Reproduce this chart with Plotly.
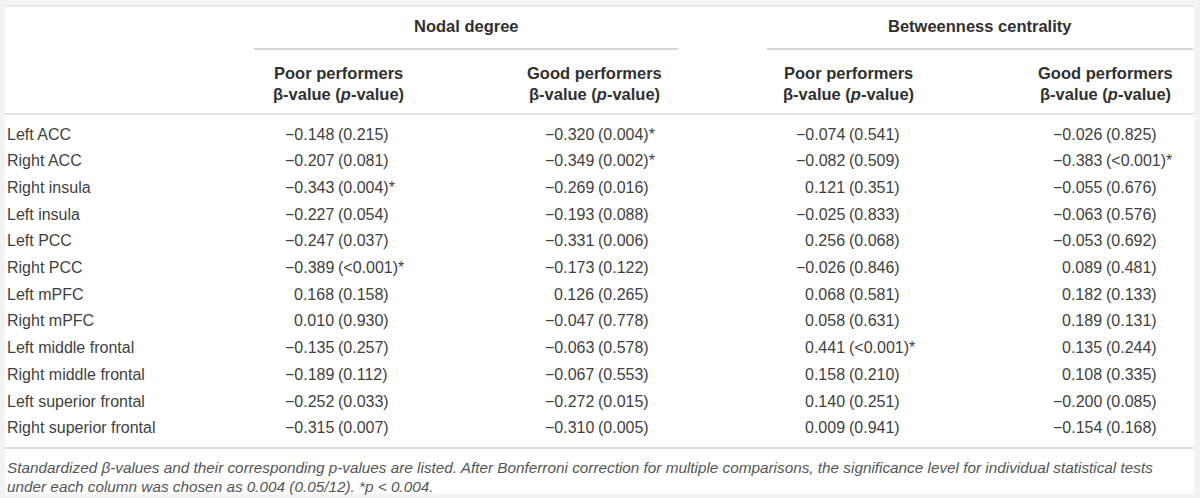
import plotly.graph_objects as go

# table content
regions = [
    "Left ACC", "Right ACC", "Right insula", "Left insula", "Left PCC", "Right PCC",
    "Left mPFC", "Right mPFC", "Left middle frontal", "Right middle frontal",
    "Left superior frontal", "Right superior frontal",
]

nd_poor_beta = [-0.148, -0.207, -0.343, -0.227, -0.247, -0.389, 0.168, 0.010, -0.135, -0.189, -0.252, -0.315]
nd_poor_p = ["0.215", "0.081", "0.004", "0.054", "0.037", "<0.001", "0.158", "0.930", "0.257", "0.112", "0.033", "0.007"]

nd_good_beta = [-0.320, -0.349, -0.269, -0.193, -0.331, -0.173, 0.126, -0.047, -0.063, -0.067, -0.272, -0.310]
nd_good_p = ["0.004", "0.002", "0.016", "0.088", "0.006", "0.122", "0.265", "0.778", "0.578", "0.553", "0.015", "0.005"]

bc_poor_beta = [-0.074, -0.082, 0.121, -0.025, 0.256, -0.026, 0.068, 0.058, 0.441, 0.158, 0.140, 0.009]
bc_poor_p = ["0.541", "0.509", "0.351", "0.833", "0.068", "0.846", "0.581", "0.631", "<0.001", "0.210", "0.251", "0.941"]

bc_good_beta = [-0.026, -0.383, -0.055, -0.063, -0.053, 0.089, 0.182, 0.189, 0.135, 0.108, -0.200, -0.154]
bc_good_p = ["0.825", "<0.001", "0.676", "0.576", "0.692", "0.481", "0.133", "0.131", "0.244", "0.335", "0.085", "0.168"]

groups = ["Nodal degree", "Betweenness centrality"]
subheads = ["Poor performers", "Good performers", "Poor performers", "Good performers"]
subhead2 = "β-value (<i>p</i>-value)"
footnote = [
    "Standardized β-values and their corresponding <i>p</i>-values are listed. After Bonferroni correction "
    "for multiple comparisons, the significance level for individual statistical tests",
    "under each column was chosen as 0.004 (0.05/12). *p &lt; 0.004.",
]
alpha = 0.004

columns = [(nd_poor_beta, nd_poor_p), (nd_good_beta, nd_good_p),
           (bc_poor_beta, bc_poor_p), (bc_good_beta, bc_good_p)]

# geometry (pixels)
W, H = 1200, 498
ROW0, ROW_H = 134, 26.7
col_x = [338, 598, 849, 1106]      # where "(" starts in each column
head_x = [338, 594, 848, 1105]
group_x = [466, 980]
group_lines = [(254, 678), (767, 1193)]

FONT = "Liberation Sans, Arial, Helvetica, sans-serif"
TXT = "#3f3f3f"
HEAD = "#303030"


def py(px):
    return 1 - px / H


def fmt(v):
    return f"{v:.3f}".replace("-", "\u2212")


fig = go.Figure(go.Scatter(x=[], y=[], mode="markers", showlegend=False))

ann = []
for i, name in enumerate(regions):
    ann.append(dict(x=7, y=i, text=name, xanchor="left"))

for j, (betas, ps) in enumerate(columns):
    for i in range(len(regions)):
        star = "*" if float(ps[i].lstrip("<")) <= alpha else ""
        ann.append(dict(x=col_x[j], y=i, text=fmt(betas[i]), xanchor="right", xshift=-4.5))
        ann.append(dict(x=col_x[j], y=i, text="(" + ps[i].replace("<", "&lt;") + ")" + star,
                        xanchor="left"))

for a in ann:
    a.update(xref="x", yref="y", yanchor="middle", showarrow=False, borderpad=0, borderwidth=0,
             font=dict(family=FONT, size=16, color=TXT))


def header(x, ypx, text, **kw):
    d = dict(x=x, y=py(ypx), xref="x", yref="paper", yanchor="middle", text=text,
             showarrow=False, borderpad=0, borderwidth=0,
             font=dict(family=FONT, size=16.5, color=HEAD))
    d.update(kw)
    return d


for g, gx in zip(groups, group_x):
    ann.append(header(gx, 26, "<b>" + g + "</b>"))
for s, hx in zip(subheads, head_x):
    ann.append(header(hx, 73, "<b>" + s + "</b>"))
    ann.append(header(hx, 94, "<b>" + subhead2 + "</b>"))
for k, line in enumerate(footnote):
    ann.append(header(7, 467 + 19 * k, "<i>" + line + "</i>", xanchor="left",
                      font=dict(family=FONT, size=15.3, color="#555")))

shapes = [
    dict(type="rect", xref="x", yref="paper", x0=5, x1=1194, y0=py(6), y1=py(494),
         fillcolor="white", line=dict(width=0), layer="below"),
    dict(type="line", xref="x", yref="paper", x0=5, x1=1194, y0=py(6), y1=py(6),
         line=dict(color="#d4d4d4", width=1)),
    dict(type="line", xref="x", yref="paper", x0=5, x1=1194, y0=py(114), y1=py(114),
         line=dict(color="#d9d9d9", width=1.5)),
    dict(type="line", xref="x", yref="paper", x0=5, x1=1194, y0=py(448), y1=py(448),
         line=dict(color="#dddddd", width=2)),
]
for x0, x1 in group_lines:
    shapes.append(dict(type="line", xref="x", yref="paper", x0=x0, x1=x1, y0=py(49), y1=py(49),
                       line=dict(color="#a8a8a8", width=1)))

fig.update_layout(
    width=W, height=H, margin=dict(l=0, r=0, t=0, b=0),
    paper_bgcolor="#f3f3f3", plot_bgcolor="rgba(0,0,0,0)",
    xaxis=dict(range=[0, W], visible=False, fixedrange=True),
    yaxis=dict(range=[(H - ROW0) / ROW_H, -ROW0 / ROW_H], visible=False, fixedrange=True),
    annotations=ann, shapes=shapes, showlegend=False,
)

fig.write_html("out.html", config={"displayModeBar": False},
               post_script="document.body.style.margin='0';")
